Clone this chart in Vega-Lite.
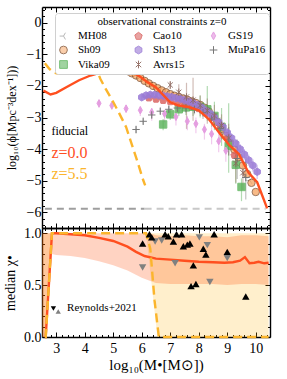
{
"$schema": "https://vega.github.io/schema/vega-lite/v6.json",
"padding": {"left": 3, "top": 3, "right": 7, "bottom": 2},
"spacing": -2,
"bounds": "flush",
"config": {
 "font": "Liberation Serif",
 "view": {"stroke": null},
 "axis": {"domainColor": "black", "domainWidth": 1.4, "tickColor": "black", "tickWidth": 1, "labelFontSize": 14, "labelColor": "black", "titleColor": "black", "titleFontWeight": "normal", "grid": false, "labelFont": "Liberation Serif", "titleFont": "Liberation Serif", "labelFlush": false, "labelOverlap": false, "labelPadding": 6},
 "legend": {"orient": "none", "legendX": 13, "legendY": 6, "columns": 3, "columnPadding": 22, "rowPadding": 1.5, "padding": 3, "titlePadding": 3, "titleAnchor": "middle", "titleFontSize": 11, "titleFontWeight": "normal", "titleFont": "Liberation Serif", "titleColor": "black", "labelFontSize": 11, "labelFont": "Liberation Serif", "labelColor": "black", "labelOffset": 9, "symbolSize": 60, "symbolStrokeWidth": 1, "strokeColor": "#d0d0d0", "fillColor": "white", "cornerRadius": 3}
},
"resolve": {"scale": {"shape": "independent", "fill": "independent", "stroke": "independent", "opacity": "independent", "color": "independent"}},
"datasets": {
 "obs": [
  {"src":"MH08","x":6.6,"y":-2.2},{"src":"MH08","x":7.0,"y":-2.33},{"src":"MH08","x":7.4,"y":-2.44},{"src":"MH08","x":7.8,"y":-2.55},{"src":"MH08","x":8.2,"y":-2.75},{"src":"MH08","x":8.6,"y":-3.1},{"src":"MH08","x":9.0,"y":-3.62},{"src":"MH08","x":9.4,"y":-4.3},{"src":"MH08","x":9.8,"y":-5.0},
  {"src":"Sh09","x":5.5,"y":-1.53},{"src":"Sh09","x":5.65,"y":-1.6},{"src":"Sh09","x":5.8,"y":-1.67},{"src":"Sh09","x":5.95,"y":-1.75},{"src":"Sh09","x":6.1,"y":-1.84},{"src":"Sh09","x":6.25,"y":-1.92},{"src":"Sh09","x":6.4,"y":-2.0},{"src":"Sh09","x":6.55,"y":-2.07},{"src":"Sh09","x":6.7,"y":-2.14},{"src":"Sh09","x":6.85,"y":-2.2},{"src":"Sh09","x":7.0,"y":-2.26},{"src":"Sh09","x":7.15,"y":-2.31},{"src":"Sh09","x":7.3,"y":-2.35},{"src":"Sh09","x":7.45,"y":-2.4},{"src":"Sh09","x":7.6,"y":-2.44},{"src":"Sh09","x":7.75,"y":-2.49},{"src":"Sh09","x":7.9,"y":-2.54},{"src":"Sh09","x":8.05,"y":-2.6},{"src":"Sh09","x":8.2,"y":-2.69},{"src":"Sh09","x":8.35,"y":-2.81},{"src":"Sh09","x":8.5,"y":-2.96},{"src":"Sh09","x":8.65,"y":-3.14},{"src":"Sh09","x":8.8,"y":-3.36},{"src":"Sh09","x":8.95,"y":-3.58},{"src":"Sh09","x":9.1,"y":-3.8},{"src":"Sh09","x":9.25,"y":-4.02},{"src":"Sh09","x":9.4,"y":-4.26},{"src":"Sh09","x":9.55,"y":-4.52},{"src":"Sh09","x":9.7,"y":-4.79},{"src":"Sh09","x":9.85,"y":-5.07},{"src":"Sh09","x":10.0,"y":-5.36},
  {"src":"Vika09","x":6.75,"y":-3.22,"lo":-3.4,"hi":-3.05},{"src":"Vika09","x":7.0,"y":-2.9,"lo":-3.08,"hi":-2.72},{"src":"Vika09","x":7.3,"y":-2.74,"lo":-2.95,"hi":-2.55},{"src":"Vika09","x":7.55,"y":-2.68,"lo":-2.92,"hi":-2.45},{"src":"Vika09","x":7.8,"y":-2.66,"lo":-2.95,"hi":-2.38},{"src":"Vika09","x":8.05,"y":-2.66,"lo":-3.0,"hi":-2.3},{"src":"Vika09","x":8.3,"y":-2.74,"lo":-3.1,"hi":-2.0},{"src":"Vika09","x":8.55,"y":-2.95,"lo":-3.4,"hi":-2.5},{"src":"Vika09","x":8.8,"y":-3.3,"lo":-3.9,"hi":-2.7},{"src":"Vika09","x":9.05,"y":-3.9,"lo":-4.75,"hi":-2.55},{"src":"Vika09","x":9.3,"y":-4.5,"lo":-5.1,"hi":-3.9},{"src":"Vika09","x":9.5,"y":-5.2,"lo":-5.65,"hi":-4.93},
  {"src":"Cao10","x":6.25,"y":-2.38},{"src":"Cao10","x":6.5,"y":-2.42},{"src":"Cao10","x":6.75,"y":-2.46},{"src":"Cao10","x":7.0,"y":-2.5},{"src":"Cao10","x":7.25,"y":-2.54},{"src":"Cao10","x":7.5,"y":-2.58},{"src":"Cao10","x":7.75,"y":-2.64},{"src":"Cao10","x":8.0,"y":-2.72},{"src":"Cao10","x":8.25,"y":-2.84},{"src":"Cao10","x":8.5,"y":-3.0},{"src":"Cao10","x":8.75,"y":-3.25},{"src":"Cao10","x":9.0,"y":-3.65},{"src":"Cao10","x":9.25,"y":-4.2},
  {"src":"Sh13","x":6.0,"y":-2.36,"lo":-2.46,"hi":-2.26},{"src":"Sh13","x":6.15,"y":-2.3,"lo":-2.4,"hi":-2.2},{"src":"Sh13","x":6.3,"y":-2.28,"lo":-2.38,"hi":-2.18},{"src":"Sh13","x":6.45,"y":-2.28,"lo":-2.38,"hi":-2.18},{"src":"Sh13","x":6.6,"y":-2.3,"lo":-2.4,"hi":-2.2},{"src":"Sh13","x":6.75,"y":-2.31,"lo":-2.41,"hi":-2.21},{"src":"Sh13","x":6.9,"y":-2.33,"lo":-2.43,"hi":-2.23},{"src":"Sh13","x":7.05,"y":-2.35,"lo":-2.45,"hi":-2.25},{"src":"Sh13","x":7.2,"y":-2.38,"lo":-2.48,"hi":-2.28},{"src":"Sh13","x":7.35,"y":-2.41,"lo":-2.51,"hi":-2.31},{"src":"Sh13","x":7.5,"y":-2.45,"lo":-2.55,"hi":-2.35},{"src":"Sh13","x":7.65,"y":-2.49,"lo":-2.59,"hi":-2.39},{"src":"Sh13","x":7.8,"y":-2.54,"lo":-2.64,"hi":-2.44},{"src":"Sh13","x":7.95,"y":-2.6,"lo":-2.7,"hi":-2.5},{"src":"Sh13","x":8.1,"y":-2.68,"lo":-2.78,"hi":-2.58},{"src":"Sh13","x":8.25,"y":-2.78,"lo":-2.9,"hi":-2.66},{"src":"Sh13","x":8.4,"y":-2.88,"lo":-3.0,"hi":-2.76},{"src":"Sh13","x":8.55,"y":-3.0,"lo":-3.12,"hi":-2.88},{"src":"Sh13","x":8.7,"y":-3.15,"lo":-3.28,"hi":-3.02},{"src":"Sh13","x":8.85,"y":-3.3,"lo":-3.44,"hi":-3.16},{"src":"Sh13","x":9.0,"y":-3.48,"lo":-3.62,"hi":-3.34},{"src":"Sh13","x":9.15,"y":-3.65,"lo":-3.8,"hi":-3.5},{"src":"Sh13","x":9.3,"y":-3.83,"lo":-3.98,"hi":-3.68},{"src":"Sh13","x":9.45,"y":-4.0,"lo":-4.16,"hi":-3.84},{"src":"Sh13","x":9.6,"y":-4.17,"lo":-4.34,"hi":-4.0},{"src":"Sh13","x":9.75,"y":-4.35,"lo":-4.53,"hi":-4.17},{"src":"Sh13","x":9.9,"y":-4.52,"lo":-4.72,"hi":-4.32},{"src":"Sh13","x":10.05,"y":-4.72,"lo":-4.95,"hi":-4.5},
  {"src":"Avrs15","x":7.0,"y":-1.97,"lo":-2.1,"hi":-1.85},{"src":"Avrs15","x":7.3,"y":-2.2,"lo":-2.5,"hi":-1.95},{"src":"Avrs15","x":7.57,"y":-2.35,"lo":-3.36,"hi":-1.9},{"src":"Avrs15","x":7.8,"y":-2.45,"lo":-3.1,"hi":-1.74},{"src":"Avrs15","x":8.05,"y":-2.62,"lo":-2.95,"hi":-2.3},{"src":"Avrs15","x":8.3,"y":-2.78,"lo":-3.2,"hi":-2.4},{"src":"Avrs15","x":8.55,"y":-2.95,"lo":-3.25,"hi":-2.6},{"src":"Avrs15","x":8.8,"y":-3.25,"lo":-3.7,"hi":-2.9},{"src":"Avrs15","x":9.05,"y":-3.65,"lo":-4.2,"hi":-3.2},{"src":"Avrs15","x":9.3,"y":-4.45,"lo":-5.07,"hi":-4.07},{"src":"Avrs15","x":9.55,"y":-4.75,"lo":-5.3,"hi":-4.3},
  {"src":"GS19","x":4.5,"y":-2.55,"lo":-2.7,"hi":-2.45},{"src":"GS19","x":4.95,"y":-2.62,"lo":-2.75,"hi":-2.5},{"src":"GS19","x":5.45,"y":-2.72,"lo":-2.85,"hi":-2.6},{"src":"GS19","x":5.95,"y":-2.77,"lo":-2.95,"hi":-2.65},{"src":"GS19","x":6.35,"y":-2.83,"lo":-3.1,"hi":-2.7},{"src":"GS19","x":6.8,"y":-2.88,"lo":-3.15,"hi":-2.75},{"src":"GS19","x":7.2,"y":-2.98,"lo":-3.25,"hi":-2.85},{"src":"GS19","x":7.6,"y":-3.12,"lo":-3.4,"hi":-2.95},{"src":"GS19","x":7.9,"y":-3.2,"lo":-3.5,"hi":-3.0},{"src":"GS19","x":8.2,"y":-3.38,"lo":-3.7,"hi":-3.2},{"src":"GS19","x":8.45,"y":-3.52,"lo":-3.85,"hi":-3.3},{"src":"GS19","x":8.7,"y":-3.75,"lo":-4.1,"hi":-3.5},{"src":"GS19","x":8.95,"y":-4.05,"lo":-4.4,"hi":-3.75},
  {"src":"MuPa16","x":5.8,"y":-3.38,"lo":-3.5,"hi":-3.28},{"src":"MuPa16","x":6.05,"y":-3.12,"lo":-3.22,"hi":-3.02},{"src":"MuPa16","x":6.35,"y":-2.92,"lo":-3.02,"hi":-2.82},{"src":"MuPa16","x":6.65,"y":-2.8,"lo":-2.9,"hi":-2.7},{"src":"MuPa16","x":6.95,"y":-2.74,"lo":-2.85,"hi":-2.63},{"src":"MuPa16","x":7.25,"y":-2.7,"lo":-2.82,"hi":-2.58},{"src":"MuPa16","x":7.55,"y":-2.7,"lo":-2.84,"hi":-2.56},{"src":"MuPa16","x":7.85,"y":-2.74,"lo":-2.9,"hi":-2.58},{"src":"MuPa16","x":8.15,"y":-2.85,"lo":-3.05,"hi":-2.65},{"src":"MuPa16","x":8.45,"y":-3.05,"lo":-3.3,"hi":-2.8},{"src":"MuPa16","x":8.75,"y":-3.35,"lo":-3.7,"hi":-3.0},{"src":"MuPa16","x":9.05,"y":-3.75,"lo":-4.2,"hi":-3.3},{"src":"MuPa16","x":9.35,"y":-4.3,"lo":-4.95,"hi":-3.7},{"src":"MuPa16","x":9.65,"y":-4.9,"lo":-5.6,"hi":-4.3}
 ],
 "mf_z0": [{"x":2.55,"y":-2.15},{"x":2.8,"y":-2.27},{"x":3.0,"y":-2.22},{"x":3.4,"y":-2.02},{"x":3.8,"y":-1.82},{"x":4.2,"y":-1.67},{"x":4.6,"y":-1.56},{"x":5.0,"y":-1.47},{"x":5.3,"y":-1.46},{"x":5.6,"y":-1.53},{"x":5.9,"y":-1.68},{"x":6.2,"y":-1.88},{"x":6.5,"y":-2.05},{"x":6.8,"y":-2.33},{"x":7.0,"y":-2.52},{"x":7.3,"y":-2.62},{"x":7.65,"y":-2.67},{"x":8.0,"y":-2.77},{"x":8.35,"y":-3.05},{"x":8.8,"y":-3.58},{"x":9.1,"y":-3.9},{"x":9.4,"y":-4.15},{"x":9.75,"y":-4.75},{"x":10.05,"y":-5.05},{"x":10.4,"y":-5.88}],
 "mf_z55": [{"x":2.6,"y":-1.28},{"x":2.75,"y":-1.45},{"x":2.9,"y":-1.57},{"x":3.05,"y":-1.61},{"x":3.25,"y":-1.59},{"x":3.45,"y":-1.52},{"x":3.65,"y":-1.38},{"x":3.85,"y":-1.25},{"x":4.05,"y":-1.22},{"x":4.25,"y":-1.26},{"x":4.4,"y":-1.45},{"x":4.55,"y":-1.78},{"x":4.75,"y":-2.12},{"x":5.0,"y":-2.51},{"x":5.2,"y":-2.85},{"x":5.35,"y":-3.12},{"x":5.45,"y":-3.3},{"x":5.65,"y":-3.85},{"x":5.85,"y":-4.4},{"x":6.05,"y":-4.98},{"x":6.12,"y":-5.15}],
 "limits": [{"lim":"z55","x":2.6,"x2":6.1,"y":-5.89},{"lim":"z0","x":6.1,"x2":10.35,"y":-5.89}],
 "notes_top": [{"t":"fiducial","x":2.83,"y":-3.43},{"t":"z=0.0","x":2.83,"y":-4.13},{"t":"z=5.5","x":2.83,"y":-4.79}],
 "band_z0": [{"x":2.5,"lo":0,"hi":1},{"x":2.62,"lo":0,"hi":1},{"x":2.85,"lo":0.8,"hi":1},{"x":3.0,"lo":0.79,"hi":1},{"x":3.5,"lo":0.78,"hi":1},{"x":4.0,"lo":0.76,"hi":1},{"x":4.5,"lo":0.73,"hi":1},{"x":5.0,"lo":0.69,"hi":1},{"x":5.5,"lo":0.64,"hi":1},{"x":6.0,"lo":0.57,"hi":1},{"x":6.3,"lo":0.54,"hi":1},{"x":6.5,"lo":0.52,"hi":0.98},{"x":7.0,"lo":0.51,"hi":0.97},{"x":7.5,"lo":0.51,"hi":0.98},{"x":8.0,"lo":0.51,"hi":0.97},{"x":8.5,"lo":0.51,"hi":0.97},{"x":9.0,"lo":0.5,"hi":0.96},{"x":9.5,"lo":0.51,"hi":0.98},{"x":10.0,"lo":0.51,"hi":0.98},{"x":10.45,"lo":0.5,"hi":0.97}],
 "band_z55": [{"x":2.5,"lo":0,"hi":1},{"x":2.62,"lo":0,"hi":1},{"x":2.85,"lo":1,"hi":1},{"x":6.15,"lo":1,"hi":1},{"x":6.55,"lo":0,"hi":1},{"x":10.45,"lo":0,"hi":1}],
 "chi_z0": [{"x":2.6,"y":0},{"x":2.63,"y":0},{"x":2.85,"y":1.0},{"x":3.0,"y":1.0},{"x":3.5,"y":0.99},{"x":4.0,"y":0.98},{"x":4.5,"y":0.955},{"x":5.0,"y":0.925},{"x":5.5,"y":0.87},{"x":5.8,"y":0.82},{"x":6.1,"y":0.78},{"x":6.5,"y":0.755},{"x":7.0,"y":0.745},{"x":7.5,"y":0.735},{"x":8.0,"y":0.725},{"x":8.5,"y":0.72},{"x":8.9,"y":0.715},{"x":9.2,"y":0.72},{"x":9.45,"y":0.735},{"x":9.62,"y":0.77},{"x":9.78,"y":0.71},{"x":9.95,"y":0.715},{"x":10.1,"y":0.725},{"x":10.3,"y":0.71},{"x":10.45,"y":0.715}],
 "chi_z55": [{"x":2.6,"y":0},{"x":2.63,"y":0},{"x":2.85,"y":1.0},{"x":6.15,"y":1.0},{"x":6.3,"y":0.85},{"x":6.45,"y":0.35},{"x":6.6,"y":0.0},{"x":10.45,"y":0.0}],
 "rey": [
  {"k":"up","x":6.03,"y":0.9},{"k":"up","x":6.27,"y":0.99},{"k":"up","x":6.35,"y":0.96},{"k":"up","x":6.82,"y":0.99},{"k":"up","x":6.93,"y":0.97},{"k":"up","x":7.11,"y":0.92},{"k":"up","x":7.22,"y":0.99},{"k":"up","x":7.4,"y":0.99},{"k":"up","x":7.46,"y":0.875},{"k":"up","x":7.6,"y":0.89},{"k":"up","x":7.69,"y":0.9},{"k":"up","x":8.16,"y":0.85},{"k":"up","x":8.25,"y":0.795},{"k":"up","x":8.54,"y":0.99},{"k":"up","x":9.0,"y":0.82},{"k":"up","x":7.81,"y":0.69},{"k":"up","x":7.73,"y":0.49},{"k":"up","x":7.9,"y":0.51},{"k":"up","x":9.65,"y":0.39},
  {"k":"down","x":6.03,"y":0.67},{"k":"down","x":6.47,"y":0.92},{"k":"down","x":6.7,"y":0.93},{"k":"down","x":7.17,"y":0.71},{"k":"down","x":8.02,"y":0.96},{"k":"down","x":8.3,"y":0.885},{"k":"down","x":8.39,"y":0.53},{"k":"down","x":9.0,"y":0.76}
 ],
 "rey_key": [{"k":"down","x":2.9,"y":0.274},{"k":"up","x":3.07,"y":0.245}],
 "rey_txt": [{"t":"Reynolds+2021","x":3.38,"y":0.28}]
},
"vconcat": [
 {
  "width": 228, "height": 221,
  "resolve": {"axis": {"x": "independent", "y": "independent"}},
  "layer": [
   {"data": {"name": "limits"}, "transform": [{"filter": "datum.lim === 'z55'"}],
    "mark": {"type": "rule", "color": "#9e9e9e", "strokeWidth": 2, "strokeDash": [7, 5]},
    "encoding": {"x": {"field": "x", "type": "quantitative", "scale": {"domain": [2.5, 10.5], "nice": false, "zero": false}, "axis": null}, "x2": {"field": "x2"}, "y": {"field": "y", "type": "quantitative", "scale": {"domain": [-6.5, 0.5], "nice": false, "zero": false}, "axis": null}}},
   {"data": {"name": "limits"}, "transform": [{"filter": "datum.lim === 'z0'"}],
    "mark": {"type": "rule", "color": "#c8c8c8", "strokeWidth": 2, "strokeDash": [7, 5]},
    "encoding": {"x": {"field": "x", "type": "quantitative", "scale": {"domain": [2.5, 10.5], "nice": false, "zero": false}, "axis": null}, "x2": {"field": "x2"}, "y": {"field": "y", "type": "quantitative", "scale": {"domain": [-6.5, 0.5], "nice": false, "zero": false}, "axis": null}}},
   {"data": {"name": "obs"}, "transform": [{"filter": "isValid(datum.lo)"}],
    "mark": {"type": "rule", "strokeWidth": 1.2, "opacity": 0.45},
    "encoding": {"x": {"field": "x", "type": "quantitative", "scale": {"domain": [2.5, 10.5], "nice": false, "zero": false}, "axis": null}, "y": {"field": "lo", "type": "quantitative", "scale": {"domain": [-6.5, 0.5], "nice": false, "zero": false}, "axis": null}, "y2": {"field": "hi"},
     "color": {"field": "src", "type": "nominal", "legend": null, "scale": {"domain": ["Avrs15","Cao10","GS19","MH08","MuPa16","Sh09","Sh13","Vika09"], "range": ["#9a6a60","#d9625f","#e08ad8","#a0a0a0","#777777","#f6a35e","#9a7bd6","#55b055"]}}}},
   {"data": {"name": "obs"},
    "mark": {"type": "point", "filled": true, "size": 55, "strokeWidth": 1},
    "encoding": {
     "x": {"field": "x", "type": "quantitative", "scale": {"domain": [2.5, 10.5], "nice": false, "zero": false},
      "axis": {"orient": "bottom", "title": null, "labels": false, "values": [2.6,2.8,3,3.2,3.4,3.6,3.8,4,4.2,4.4,4.6,4.8,5,5.2,5.4,5.6,5.8,6,6.2,6.4,6.6,6.8,7,7.2,7.4,7.6,7.8,8,8.2,8.4,8.6,8.8,9,9.2,9.4,9.6,9.8,10,10.2,10.4], "tickSize": {"condition": {"test": "abs(datum.value-round(datum.value))<0.01", "value": -5}, "value": -2.5}}},
     "y": {"field": "y", "type": "quantitative", "scale": {"domain": [-6.5, 0.5], "nice": false, "zero": false},
      "axis": {"orient": "left", "title": "log₁₀(ϕ[Mpc⁻³dex⁻¹]))", "titleFontSize": 12, "titlePadding": 8, "values": [-6.4,-6.2,-6,-5.8,-5.6,-5.4,-5.2,-5,-4.8,-4.6,-4.4,-4.2,-4,-3.8,-3.6,-3.4,-3.2,-3,-2.8,-2.6,-2.4,-2.2,-2,-1.8,-1.6,-1.4,-1.2,-1,-0.8,-0.6,-0.4,-0.2,0,0.2,0.4], "labelExpr": "abs(datum.value-round(datum.value))<0.01 ? format(round(datum.value),'d') : ''", "tickSize": {"condition": {"test": "abs(datum.value-round(datum.value))<0.01", "value": -5}, "value": -2.5}}},
     "fill": {"field": "src", "type": "nominal", "title": "observational constraints z=0", "scale": {"domain": ["MH08","Sh09","Vika09","Cao10","Sh13","Avrs15","GS19","MuPa16"], "range": ["transparent","#f6a35e","#55b055","#d9625f","#9a7bd6","transparent","#e49be0","transparent"]}},
     "stroke": {"field": "src", "type": "nominal", "title": "observational constraints z=0", "scale": {"domain": ["MH08","Sh09","Vika09","Cao10","Sh13","Avrs15","GS19","MuPa16"], "range": ["#9a9a9a","#7a4a2a","#55b055","#d9625f","#9a7bd6","#8f6a60","#e49be0","#777777"]}},
     "shape": {"field": "src", "type": "nominal", "title": "observational constraints z=0",
      "scale": {"domain": ["MH08","Sh09","Vika09","Cao10","Sh13","Avrs15","GS19","MuPa16"], "range": ["M0,0L-1,0M0,0L0.5,-0.866M0,0L0.5,0.866", "circle", "square", "M0,-1L0.951,-0.309L0.588,0.809L-0.588,0.809L-0.951,-0.309Z", "M0,-1L0.866,-0.5L0.866,0.5L0,1L-0.866,0.5L-0.866,-0.5Z", "M-0.7,-0.7L0.7,0.7M-0.7,0.7L0.7,-0.7M0,-1L0,1", "M0,-1L0.55,0L0,1L-0.55,0Z", "M-1,0L1,0M0,-1L0,1"]}},
     "opacity": {"field": "src", "type": "nominal", "title": "observational constraints z=0", "scale": {"domain": ["MH08","Sh09","Vika09","Cao10","Sh13","Avrs15","GS19","MuPa16"], "range": [0.7,1,0.7,0.75,0.7,0.7,0.75,0.6]}}
    }},
   {"data": {"name": "mf_z0"},
    "mark": {"type": "line", "color": "#ff4f1f", "strokeWidth": 2.4, "clip": true},
    "encoding": {
     "x": {"field": "x", "type": "quantitative", "scale": {"domain": [2.5, 10.5], "nice": false, "zero": false},
      "axis": {"orient": "top", "title": null, "labels": false, "values": [2.6,2.8,3,3.2,3.4,3.6,3.8,4,4.2,4.4,4.6,4.8,5,5.2,5.4,5.6,5.8,6,6.2,6.4,6.6,6.8,7,7.2,7.4,7.6,7.8,8,8.2,8.4,8.6,8.8,9,9.2,9.4,9.6,9.8,10,10.2,10.4], "tickSize": {"condition": {"test": "abs(datum.value-round(datum.value))<0.01", "value": -5}, "value": -2.5}}},
     "y": {"field": "y", "type": "quantitative", "scale": {"domain": [-6.5, 0.5], "nice": false, "zero": false},
      "axis": {"orient": "right", "title": null, "labels": false, "values": [-6.4,-6.2,-6,-5.8,-5.6,-5.4,-5.2,-5,-4.8,-4.6,-4.4,-4.2,-4,-3.8,-3.6,-3.4,-3.2,-3,-2.8,-2.6,-2.4,-2.2,-2,-1.8,-1.6,-1.4,-1.2,-1,-0.8,-0.6,-0.4,-0.2,0,0.2,0.4], "tickSize": {"condition": {"test": "abs(datum.value-round(datum.value))<0.01", "value": -5}, "value": -2.5}}}
    }},
   {"data": {"name": "mf_z55"},
    "mark": {"type": "line", "color": "#fbb52c", "strokeWidth": 2.4, "strokeDash": [9, 5], "clip": true},
    "encoding": {"x": {"field": "x", "type": "quantitative", "scale": {"domain": [2.5, 10.5], "nice": false, "zero": false}, "axis": null}, "y": {"field": "y", "type": "quantitative", "scale": {"domain": [-6.5, 0.5], "nice": false, "zero": false}, "axis": null}}},
   {"data": {"name": "notes_top"}, "transform": [{"filter": "datum.t === 'fiducial'"}],
    "mark": {"type": "text", "align": "left", "baseline": "middle", "fontSize": 12, "color": "black"},
    "encoding": {"x": {"field": "x", "type": "quantitative", "scale": {"domain": [2.5, 10.5], "nice": false, "zero": false}, "axis": null}, "y": {"field": "y", "type": "quantitative", "scale": {"domain": [-6.5, 0.5], "nice": false, "zero": false}, "axis": null}, "text": {"field": "t"}}},
   {"data": {"name": "notes_top"}, "transform": [{"filter": "datum.t === 'z=0.0'"}],
    "mark": {"type": "text", "align": "left", "baseline": "middle", "fontSize": 16, "color": "#ff4f1f"},
    "encoding": {"x": {"field": "x", "type": "quantitative", "scale": {"domain": [2.5, 10.5], "nice": false, "zero": false}, "axis": null}, "y": {"field": "y", "type": "quantitative", "scale": {"domain": [-6.5, 0.5], "nice": false, "zero": false}, "axis": null}, "text": {"field": "t"}}},
   {"data": {"name": "notes_top"}, "transform": [{"filter": "datum.t === 'z=5.5'"}],
    "mark": {"type": "text", "align": "left", "baseline": "middle", "fontSize": 16, "color": "#fbb52c"},
    "encoding": {"x": {"field": "x", "type": "quantitative", "scale": {"domain": [2.5, 10.5], "nice": false, "zero": false}, "axis": null}, "y": {"field": "y", "type": "quantitative", "scale": {"domain": [-6.5, 0.5], "nice": false, "zero": false}, "axis": null}, "text": {"field": "t"}}}
  ]
 },
 {
  "width": 228, "height": 109,
  "resolve": {"axis": {"x": "independent", "y": "independent"}},
  "layer": [
   {"data": {"name": "band_z55"},
    "mark": {"type": "area", "color": "#ffb000", "opacity": 0.2},
    "encoding": {"x": {"field": "x", "type": "quantitative", "scale": {"domain": [2.5, 10.5], "nice": false, "zero": false}, "axis": null}, "y": {"field": "lo", "type": "quantitative", "scale": {"domain": [0, 1.05], "nice": false, "zero": false}, "axis": null}, "y2": {"field": "hi"}}},
   {"data": {"name": "band_z0"},
    "mark": {"type": "area", "color": "#ff4500", "opacity": 0.24},
    "encoding": {"x": {"field": "x", "type": "quantitative", "scale": {"domain": [2.5, 10.5], "nice": false, "zero": false}, "axis": null}, "y": {"field": "lo", "type": "quantitative", "scale": {"domain": [0, 1.05], "nice": false, "zero": false}, "axis": null}, "y2": {"field": "hi"}}},
   {"data": {"name": "chi_z0"},
    "mark": {"type": "line", "color": "#ff4f1f", "strokeWidth": 2.4},
    "encoding": {
     "x": {"field": "x", "type": "quantitative", "scale": {"domain": [2.5, 10.5], "nice": false, "zero": false},
      "axis": {"orient": "bottom", "title": "log₁₀(M•[M⊙])", "titleFontSize": 15, "titlePadding": 0, "labelPadding": 9, "values": [2.6,2.8,3,3.2,3.4,3.6,3.8,4,4.2,4.4,4.6,4.8,5,5.2,5.4,5.6,5.8,6,6.2,6.4,6.6,6.8,7,7.2,7.4,7.6,7.8,8,8.2,8.4,8.6,8.8,9,9.2,9.4,9.6,9.8,10,10.2,10.4], "labelExpr": "abs(datum.value-round(datum.value))<0.01 ? format(round(datum.value),'d') : ''", "tickSize": {"condition": {"test": "abs(datum.value-round(datum.value))<0.01", "value": -5}, "value": -2.5}}},
     "y": {"field": "y", "type": "quantitative", "scale": {"domain": [0, 1.05], "nice": false, "zero": false},
      "axis": {"orient": "left", "title": "median χ•", "titleFontSize": 14, "titlePadding": 6, "values": [0,0.1,0.2,0.3,0.4,0.5,0.6,0.7,0.8,0.9,1], "labelExpr": "abs(datum.value*2-round(datum.value*2))<0.01 ? format(datum.value,'.1f') : ''", "tickSize": {"condition": {"test": "abs(datum.value*2-round(datum.value*2))<0.01", "value": -5}, "value": -2.5}}}
    }},
   {"data": {"name": "chi_z55"},
    "mark": {"type": "line", "color": "#fbb52c", "strokeWidth": 2.4, "strokeDash": [9, 5]},
    "encoding": {
     "x": {"field": "x", "type": "quantitative", "scale": {"domain": [2.5, 10.5], "nice": false, "zero": false},
      "axis": {"orient": "top", "title": null, "labels": false, "values": [2.6,2.8,3,3.2,3.4,3.6,3.8,4,4.2,4.4,4.6,4.8,5,5.2,5.4,5.6,5.8,6,6.2,6.4,6.6,6.8,7,7.2,7.4,7.6,7.8,8,8.2,8.4,8.6,8.8,9,9.2,9.4,9.6,9.8,10,10.2,10.4], "tickSize": {"condition": {"test": "abs(datum.value-round(datum.value))<0.01", "value": -5}, "value": -2.5}}},
     "y": {"field": "y", "type": "quantitative", "scale": {"domain": [0, 1.05], "nice": false, "zero": false},
      "axis": {"orient": "right", "title": null, "labels": false, "values": [0,0.1,0.2,0.3,0.4,0.5,0.6,0.7,0.8,0.9,1], "tickSize": {"condition": {"test": "abs(datum.value*2-round(datum.value*2))<0.01", "value": -5}, "value": -2.5}}}
    }},
   {"data": {"name": "rey"}, "transform": [{"filter": "datum.k === 'down'"}],
    "mark": {"type": "point", "shape": "triangle-down", "filled": true, "size": 55, "color": "#808080", "opacity": 1},
    "encoding": {"x": {"field": "x", "type": "quantitative", "scale": {"domain": [2.5, 10.5], "nice": false, "zero": false}, "axis": null}, "y": {"field": "y", "type": "quantitative", "scale": {"domain": [0, 1.05], "nice": false, "zero": false}, "axis": null}}},
   {"data": {"name": "rey"}, "transform": [{"filter": "datum.k === 'up'"}],
    "mark": {"type": "point", "shape": "triangle-up", "filled": true, "size": 55, "color": "black", "opacity": 1},
    "encoding": {"x": {"field": "x", "type": "quantitative", "scale": {"domain": [2.5, 10.5], "nice": false, "zero": false}, "axis": null}, "y": {"field": "y", "type": "quantitative", "scale": {"domain": [0, 1.05], "nice": false, "zero": false}, "axis": null}}},
   {"data": {"name": "rey_key"}, "transform": [{"filter": "datum.k === 'down'"}],
    "mark": {"type": "point", "shape": "triangle-down", "filled": true, "size": 28, "color": "black", "opacity": 1},
    "encoding": {"x": {"field": "x", "type": "quantitative", "scale": {"domain": [2.5, 10.5], "nice": false, "zero": false}, "axis": null}, "y": {"field": "y", "type": "quantitative", "scale": {"domain": [0, 1.05], "nice": false, "zero": false}, "axis": null}}},
   {"data": {"name": "rey_key"}, "transform": [{"filter": "datum.k === 'up'"}],
    "mark": {"type": "point", "shape": "triangle-up", "filled": true, "size": 28, "color": "#808080", "opacity": 1},
    "encoding": {"x": {"field": "x", "type": "quantitative", "scale": {"domain": [2.5, 10.5], "nice": false, "zero": false}, "axis": null}, "y": {"field": "y", "type": "quantitative", "scale": {"domain": [0, 1.05], "nice": false, "zero": false}, "axis": null}}},
   {"data": {"name": "rey_txt"},
    "mark": {"type": "text", "align": "left", "baseline": "middle", "fontSize": 11, "color": "black"},
    "encoding": {"x": {"field": "x", "type": "quantitative", "scale": {"domain": [2.5, 10.5], "nice": false, "zero": false}, "axis": null}, "y": {"field": "y", "type": "quantitative", "scale": {"domain": [0, 1.05], "nice": false, "zero": false}, "axis": null}, "text": {"field": "t"}}}
  ]
 }
]
}
